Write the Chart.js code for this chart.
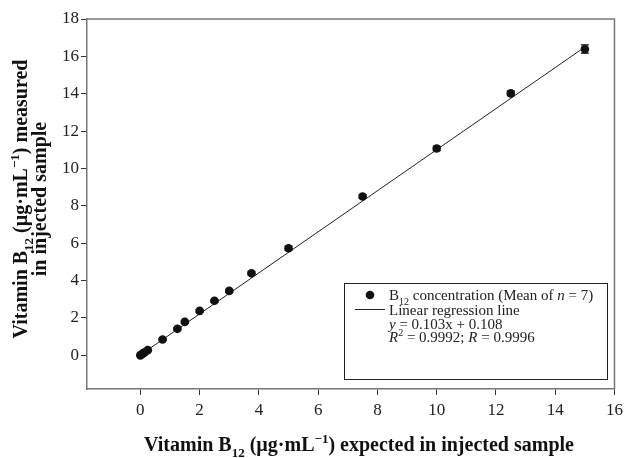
<!DOCTYPE html>
<html>
<head>
<meta charset="utf-8">
<script src="https://cdn.jsdelivr.net/npm/chart.js@4.4.1/dist/chart.umd.min.js"></script>
<style>
  body { margin: 0; background: #fff; }
</style>
</head>
<body>
<canvas id="b12Chart" width="628" height="458"></canvas>
<script>
// values
const expected = [0, 0.05, 0.1, 0.15, 0.25, 0.75, 1.25, 1.5, 2, 2.5, 3, 3.75, 5, 7.5, 10, 12.5, 15];
const measured = [0, 0.06, 0.12, 0.17, 0.28, 0.85, 1.42, 1.79, 2.38, 2.92, 3.45, 4.39, 5.73, 8.5, 11.07, 14.02, 16.39];
const errors = [0.03, 0.03, 0.03, 0.03, 0.04, 0.05, 0.06, 0.06, 0.07, 0.07, 0.08, 0.08, 0.1, 0.1, 0.12, 0.12, 0.22];
const lineX = [0, 15];
const lineY = [0.02, 16.5];
const xTicks = [0, 2, 4, 6, 8, 10, 12, 14, 16];
const yTicks = [0, 2, 4, 6, 8, 10, 12, 14, 16, 18];

const SERIF = "'Liberation Serif', 'Times New Roman', serif";

// draws a run of text pieces: [text, shift, italic]  shift: -1 sub, 1 sup
function drawRun(ctx, pieces, x, y, size, bold, align) {
    const weight = bold ? 'bold ' : '';
    function fontFor(p) {
        const s = p[1] ? Math.round(size * 0.65) : size;
        return (p[2] ? 'italic ' : '') + weight + s + 'px ' + SERIF;
    }
    let total = 0;
    pieces.forEach(p => {
        ctx.font = fontFor(p);
        total += ctx.measureText(p[0]).width;
    });
    let cx = align === 'center' ? x - total / 2 : x;
    ctx.textAlign = 'left';
    ctx.textBaseline = 'alphabetic';
    pieces.forEach(p => {
        ctx.font = fontFor(p);
        let dy = 0;
        if (p[1] === -1) dy = size * 0.3;
        if (p[1] === 1) dy = -size * 0.4;
        ctx.fillText(p[0], cx, y + dy);
        cx += ctx.measureText(p[0]).width;
    });
}

const decorPlugin = {
    id: 'decor',
    afterDatasetsDraw(chart) {
        const ctx = chart.ctx;
        const xs = chart.scales.x, ys = chart.scales.y;
        ctx.save();
        ctx.strokeStyle = '#111';
        ctx.lineWidth = 1.2;
        expected.forEach((v, i) => {
            const px = xs.getPixelForValue(v);
            const top = ys.getPixelForValue(measured[i] + errors[i]);
            const bot = ys.getPixelForValue(measured[i] - errors[i]);
            ctx.beginPath();
            ctx.moveTo(px, top); ctx.lineTo(px, bot);
            ctx.moveTo(px - 4, top); ctx.lineTo(px + 4, top);
            ctx.moveTo(px - 4, bot); ctx.lineTo(px + 4, bot);
            ctx.stroke();
        });
        ctx.restore();
    },
    afterDraw(chart) {
        const ctx = chart.ctx;
        const a = chart.chartArea;
        ctx.save();
        // top and right frame
        ctx.strokeStyle = '#777';
        ctx.lineWidth = 1.5;
        ctx.beginPath();
        ctx.moveTo(a.left, a.top); ctx.lineTo(a.right, a.top); ctx.lineTo(a.right, a.bottom);
        ctx.stroke();

        ctx.fillStyle = '#111';
        // x title
        drawRun(ctx, [['Vitamin B', 0], ['12', -1], [' (µg·mL', 0], ['−1', 1], [') expected in injected sample', 0]],
            359, 451, 20, true, 'center');
        // y title
        ctx.save();
        ctx.translate(27, 199);
        ctx.rotate(-Math.PI / 2);
        drawRun(ctx, [['Vitamin B', 0], ['12', -1], [' (µg·mL', 0], ['−1', 1], [') measured', 0]],
            0, 0, 20, true, 'center');
        drawRun(ctx, [['in injected sample', 0]], 0, 19, 20, true, 'center');
        ctx.restore();

        // legend box
        ctx.strokeStyle = '#222';
        ctx.lineWidth = 1;
        ctx.strokeRect(344.5, 283.5, 263, 96);
        ctx.beginPath();
        ctx.arc(370, 295, 4.3, 0, Math.PI * 2);
        ctx.fill();
        ctx.beginPath();
        ctx.moveTo(355, 309.5); ctx.lineTo(385, 309.5);
        ctx.stroke();
        ctx.fillStyle = '#222';
        drawRun(ctx, [['B', 0], ['12', -1], [' concentration (Mean of ', 0], ['n', 0, true], [' = 7)', 0]], 389, 300, 15, false, 'left');
        drawRun(ctx, [['Linear regression line', 0]], 389, 315, 15, false, 'left');
        drawRun(ctx, [['y', 0, true], [' = 0.103x + 0.108', 0]], 389, 329, 15, false, 'left');
        drawRun(ctx, [['R', 0, true], ['2', 1], [' = 0.9992; ', 0], ['R', 0, true], [' = 0.9996', 0]], 389, 342, 15, false, 'left');
        ctx.restore();
    }
};

const ctx = document.getElementById('b12Chart').getContext('2d');
new Chart(ctx, {
    type: 'scatter',
    data: {
        datasets: [
            {
                label: 'Linear regression line',
                type: 'line',
                data: lineX.map((x, i) => ({ x: x, y: lineY[i] })),
                borderColor: '#222',
                borderWidth: 1,
                pointRadius: 0,
                fill: false,
                order: 2
            },
            {
                label: 'B12 concentration',
                data: expected.map((x, i) => ({ x: x, y: measured[i] })),
                backgroundColor: '#111',
                borderWidth: 0,
                pointRadius: 4.3,
                order: 1
            }
        ]
    },
    options: {
        responsive: false,
        animation: false,
        devicePixelRatio: 1,
        layout: { padding: { top: 19, right: 13, left: 0, bottom: 0 } },
        plugins: { legend: { display: false }, tooltip: { enabled: false } },
        scales: {
            x: {
                type: 'linear',
                min: -1.8,
                max: 16,
                afterBuildTicks: s => { s.ticks = xTicks.map(v => ({ value: v })); },
                afterFit: s => { s.height = 69; },
                grid: { drawOnChartArea: false, tickLength: 6, color: '#333' },
                border: { color: '#777', width: 1.5 },
                ticks: { font: { family: SERIF, size: 17 }, color: '#222', padding: 5, maxRotation: 0, autoSkip: false }
            },
            y: {
                min: -1.8,
                max: 18,
                afterBuildTicks: s => { s.ticks = yTicks.map(v => ({ value: v })); },
                afterFit: s => { s.width = 87; },
                grid: { drawOnChartArea: false, tickLength: 6, color: '#333' },
                border: { color: '#777', width: 1.5 },
                ticks: { font: { family: SERIF, size: 17 }, color: '#222', padding: 2, autoSkip: false }
            }
        }
    },
    plugins: [decorPlugin]
});
</script>
</body>
</html>
